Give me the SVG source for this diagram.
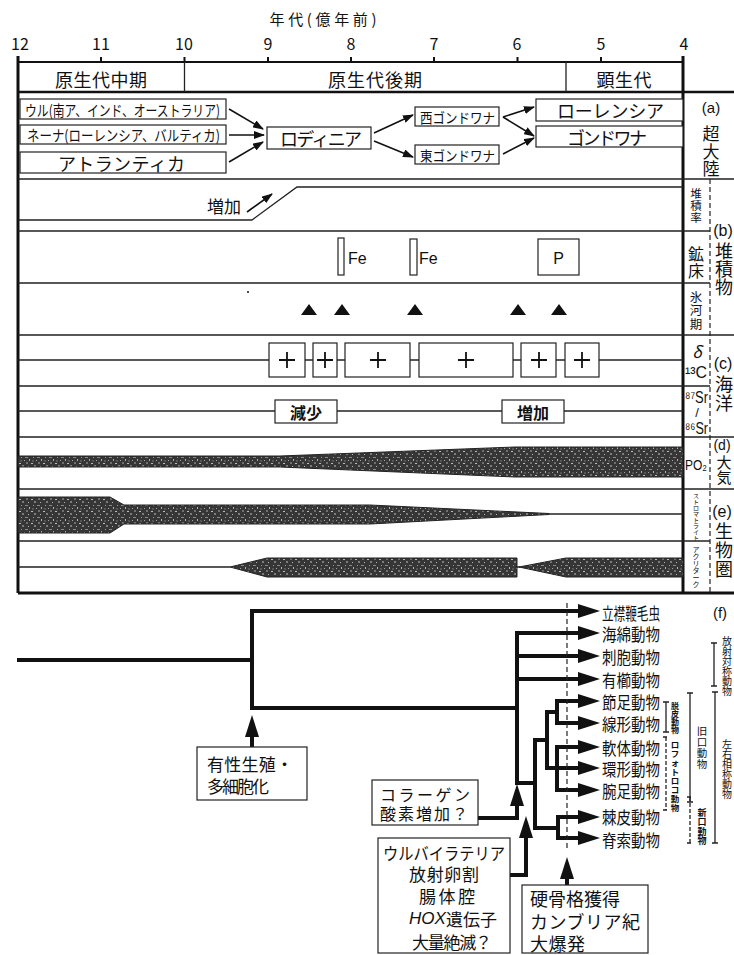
<svg xmlns="http://www.w3.org/2000/svg" width="734" height="955" viewBox="0 0 734 955">
<defs>
<style>
text{font-family:"Noto Sans CJK JP","Noto Sans CJK SC",sans-serif;fill:#111;dominant-baseline:central}
.n{font-family:"Liberation Sans",Arial,sans-serif}
.m{text-anchor:middle}
.b{font-weight:bold}
.ln{stroke:#222;stroke-width:1.3;fill:none}
.bd{stroke:#111;stroke-width:3;fill:none}
.bx{fill:#fff;stroke:#222;stroke-width:1.2}
.ar{stroke:#111;stroke-width:1.6;fill:none;marker-end:url(#ah)}
.tr{stroke:#111;stroke-width:4;fill:none}
.ta{stroke:#111;stroke-width:4;fill:none;marker-end:url(#bh)}
.band{fill:url(#tx);stroke:#222;stroke-width:1}
.dash{stroke:#222;stroke-width:1.2;fill:none;stroke-dasharray:5 3}
.ib{stroke:#222;stroke-width:1.3;fill:none}
</style>
<pattern id="tx" width="12" height="12" patternUnits="userSpaceOnUse">
<rect width="12" height="12" fill="#363636"/>
<rect x="1" y="1" width="3" height="1" fill="#8a8a8a"/>
<rect x="5" y="3" width="1" height="2" fill="#b0b0b0"/>
<rect x="2" y="6" width="2" height="2" fill="#6f6f6f"/>
<rect x="7" y="7" width="2" height="1" fill="#bcbcbc"/>
<rect x="9" y="1" width="1" height="1" fill="#9a9a9a"/>
<rect x="0" y="4" width="1" height="1" fill="#a5a5a5"/>
<rect x="10" y="9" width="2" height="2" fill="#7c7c7c"/>
<rect x="4" y="10" width="1" height="1" fill="#b5b5b5"/>
<rect x="8" y="4" width="2" height="2" fill="#555"/>
</pattern>
<marker id="ah" markerUnits="userSpaceOnUse" markerWidth="11" markerHeight="8" refX="10" refY="4" orient="auto"><path d="M0,0 L11,4 L0,8 z" fill="#111"/></marker>
<marker id="bh" markerUnits="userSpaceOnUse" markerWidth="22" markerHeight="14" refX="0" refY="7" orient="auto"><path d="M0,0 L22,7 L0,14 z" fill="#111"/></marker>
</defs>
<rect width="734" height="955" fill="#fff"/>

<!-- axis -->
<g id="axis">
<text class="m" x="323" y="18" font-size="15" textLength="107">年代(億年前)</text>
<g class="n m" font-size="16">
<text x="20" y="43">12</text><text x="101" y="43">11</text><text x="184" y="43">10</text><text x="268" y="43">9</text>
<text x="351" y="43">8</text><text x="434" y="43">7</text><text x="517" y="43">6</text><text x="601" y="43">5</text><text x="684" y="43">4</text>
</g>
<path d="M101,57V62M184.5,57V62M268,57V62M351,57V62M434,57V62M517.5,57V62M601,57V62" stroke="#111" stroke-width="2"/>
<path d="M18,62H684" stroke="#111" stroke-width="2"/>
</g>

<!-- frame and row lines -->
<g id="frame">
<path class="bd" d="M18,56V593M683,56V593"/>
<path d="M18,92H734" stroke="#111" stroke-width="2.5"/>
<path d="M18,593H734" stroke="#111" stroke-width="3"/>
<path class="ln" d="M184.5,62V92M566,62V92"/>
<path class="ln" d="M18,179H734M18,335H734M18,437H734M18,489H734"/>
<path class="ln" d="M18,231H710M18,283H710M18,386H710M18,541H710"/>
<path class="dash" d="M710,179V593"/>
</g>

<g id="periods" font-size="18">
<text class="m" x="101" y="79" textLength="92">原生代中期</text>
<text class="m" x="375" y="79" textLength="94">原生代後期</text>
<text class="m" x="624" y="79" textLength="55">顕生代</text>
</g>

<!-- (a) supercontinents -->
<g id="ur"><rect class="bx" x="20" y="99" width="206" height="20"/><text x="25" y="109" font-size="15" textLength="195" lengthAdjust="spacingAndGlyphs">ウル(南ア、インド、オーストラリア)</text></g>
<g id="nena"><rect class="bx" x="20" y="125" width="206" height="19"/><text x="27" y="134.5" font-size="15" textLength="193" lengthAdjust="spacingAndGlyphs">ネーナ(ローレンシア、バルティカ)</text></g>
<g id="atlantica"><rect class="bx" x="20" y="152" width="206" height="21"/><text x="58" y="163" font-size="18" textLength="127">アトランティカ</text></g>
<g id="rodinia"><rect class="bx" x="267" y="127" width="104" height="22"/><text x="280" y="138" font-size="18" textLength="82">ロディニア</text></g>
<g id="wgond"><rect class="bx" x="415" y="107" width="84" height="19"/><text x="420" y="116.5" font-size="14" textLength="75" lengthAdjust="spacingAndGlyphs">西ゴンドワナ</text></g>
<g id="egond"><rect class="bx" x="415" y="145" width="84" height="19"/><text x="420" y="154.5" font-size="14" textLength="75" lengthAdjust="spacingAndGlyphs">東ゴンドワナ</text></g>
<g id="laurentia"><rect class="bx" x="536" y="99" width="147" height="22"/><text x="557" y="110" font-size="18" textLength="107">ローレンシア</text></g>
<g id="gondwana"><rect class="bx" x="536" y="126" width="147" height="21"/><text x="567" y="136.5" font-size="18" textLength="80">ゴンドワナ</text></g>

<g id="connectors-a">
<path class="ar" d="M229,109L263,129"/>
<path class="ar" d="M229,135L264,135"/>
<path class="ar" d="M229,162L263,142"/>
<path class="ar" d="M374,133L413,115"/>
<path class="ar" d="M374,141L413,157"/>
<path class="ar" d="M503,117L534,107"/>
<path class="ar" d="M503,117L534,136"/>
<path class="ar" d="M503,154L534,138"/>
</g>

<g id="label-a">
<text class="m"><tspan class="n" x="711" y="107" font-size="15">(a)</tspan><tspan x="711 711 711" y="132 150 167" font-size="17">超大陸</tspan></text>
</g>

<!-- (b) sediments -->
<g id="sedrate">
<path class="ln" d="M18,220H252L297,187H683"/>
<text class="m" x="224" y="205" font-size="17">増加</text>
<path class="ar" d="M247,212L272,194"/>
</g>
<g id="ore">
<rect class="bx" x="338" y="238" width="6" height="37"/>
<text class="n" x="348" y="258" font-size="16">Fe</text>
<rect class="bx" x="410" y="239" width="7" height="36"/>
<text class="n" x="419" y="258" font-size="16">Fe</text>
<rect class="bx" x="538" y="239" width="41" height="36"/>
<text class="n m" x="558.5" y="258" font-size="16">P</text>
</g>
<g id="glacial" fill="#111">
<circle cx="248" cy="292" r="1"/>
<path d="M301,315L309,304L317,315zM334,315L342,304L350,315zM407,315L415,304L423,315zM510,315L518,304L526,315zM551,315L559,304L567,315z"/>
</g>
<g id="label-b">
<text class="m" x="696 696 696" y="193 205 217" font-size="11.5">堆積率</text>
<text class="m" x="696 696" y="253 270" font-size="16">鉱床</text>
<text class="m" x="696 696 696" y="296 309 323" font-size="12.5">氷河期</text>
<text class="m"><tspan class="n" x="723" y="230" font-size="16">(b)</tspan><tspan x="724 724 724" y="250 268 286" font-size="18">堆積物</tspan></text>
</g>

<!-- (c) ocean -->
<g id="d13c">
<path class="ln" d="M18,360H683"/>
<rect class="bx" x="269" y="343" width="36" height="34"/>
<rect class="bx" x="313" y="343" width="24" height="34"/>
<rect class="bx" x="345" y="343" width="65" height="34"/>
<rect class="bx" x="419" y="343" width="94" height="34"/>
<rect class="bx" x="521" y="343" width="35" height="34"/>
<rect class="bx" x="565" y="343" width="34" height="34"/>
<path stroke="#111" stroke-width="1.8" d="M279,360h16M287,352v16M317,360h16M325,352v16M370,360h16M378,352v16M458,360h16M466,352v16M531,360h16M539,352v16M574,360h16M582,352v16"/>
</g>
<g id="sr">
<path class="ln" d="M18,411H683"/>
<rect class="bx" x="275" y="400" width="62" height="23"/>
<text class="m b" x="306" y="411.5" font-size="16">減少</text>
<rect class="bx" x="502" y="400" width="62" height="23"/>
<text class="m b" x="533" y="411.5" font-size="16">増加</text>
</g>
<g id="label-c">
<text x="697" y="351" class="m" font-size="16" font-style="italic" font-family="Liberation Serif, serif">δ</text>
<text class="n" x="685" y="372" font-size="16" textLength="22" lengthAdjust="spacingAndGlyphs">¹³C</text>
<text class="n" x="685" y="397" font-size="16" textLength="23" lengthAdjust="spacingAndGlyphs">⁸⁷Sr</text>
<text class="n m" x="697" y="412.5" font-size="13">/</text>
<text class="n" x="685" y="428" font-size="16" textLength="23" lengthAdjust="spacingAndGlyphs">⁸⁶Sr</text>
<text class="m"><tspan class="n" x="723" y="363" font-size="16">(c)</tspan><tspan x="724 724" y="383 402" font-size="18">海洋</tspan></text>
</g>

<!-- (d) atmosphere -->
<g id="po2">
<polygon class="band" points="18,456 280,456 515,447 683,447 683,477 515,477 280,467 18,467"/>
</g>
<g id="label-d">
<text class="n" x="685" y="464" font-size="15" textLength="22" lengthAdjust="spacingAndGlyphs">PO₂</text>
<text class="m"><tspan class="n" x="722" y="445" font-size="14">(d)</tspan><tspan x="724 724" y="461 476" font-size="15">大気</tspan></text>
</g>

<!-- (e) biosphere -->
<g id="stromatolite">
<path class="ln" d="M549,514H683"/>
<polygon class="band" points="18,497 110,497 124,505 370,505 549,513.5 549,514.5 370,524 124,524 110,533 18,533"/>
</g>
<g id="acritarch">
<path class="ln" d="M18,567H230M517,567H520"/>
<polygon class="band" points="230,567 267,558 517,558 517,577 267,577"/>
<polygon class="band" points="519,567 566,558 683,558 683,577 566,577"/>
</g>
<g id="label-e">
<text class="m" x="696 696 696 696 696 696 696 696" y="495 501 507 513 519 525 531 537" font-size="6">ストロマトライト</text>
<text class="m" x="696 696 696 696 696 696" y="549 556 563 570 577 584" font-size="7">アクリターク</text>
<text class="m"><tspan class="n" x="722" y="511" font-size="16">(e)</tspan><tspan x="724 724 724" y="530 549 568" font-size="18">生物圏</tspan></text>
</g>

<!-- (f) phylogeny -->
<g id="tree-connectors">
<path class="tr" d="M17,660H252M252,609V710M250,708H517M517,631V785M515,783H535M535,738V830M533,740H547M547,710V770M545,712H557M557,699V725M545,768H557M557,745V792M533,828H558M558,815V840"/>
<path class="ta" d="M252,611H578"/>
<path class="ta" d="M517,633H578"/>
<path class="ta" d="M517,656H578"/>
<path class="ta" d="M517,679H578"/>
<path class="ta" d="M557,701H578"/>
<path class="ta" d="M557,723H578"/>
<path class="ta" d="M557,747H578"/>
<path class="ta" d="M557,768H578"/>
<path class="ta" d="M557,790H578"/>
<path class="ta" d="M558,817H578"/>
<path class="ta" d="M558,838H578"/>
<path class="dash" stroke-width="1.5" stroke-dasharray="8 5" d="M567,603V848"/>
<path class="ta" d="M252,747V737"/>
<path class="ta" d="M478,818H517V806"/>
<path class="ta" d="M510,875H526V838"/>
<path class="ta" d="M567,885V879"/>
</g>

<g id="taxa" font-size="17">
<text x="602" y="612" textLength="58" lengthAdjust="spacingAndGlyphs">立襟鞭毛虫</text>
<text x="602" y="633" textLength="58" lengthAdjust="spacingAndGlyphs">海綿動物</text>
<text x="602" y="656" textLength="58" lengthAdjust="spacingAndGlyphs">刺胞動物</text>
<text x="602" y="679" textLength="58" lengthAdjust="spacingAndGlyphs">有櫛動物</text>
<text x="602" y="701" textLength="58" lengthAdjust="spacingAndGlyphs">節足動物</text>
<text x="602" y="723" textLength="58" lengthAdjust="spacingAndGlyphs">線形動物</text>
<text x="602" y="747" textLength="58" lengthAdjust="spacingAndGlyphs">軟体動物</text>
<text x="602" y="768" textLength="58" lengthAdjust="spacingAndGlyphs">環形動物</text>
<text x="602" y="790" textLength="58" lengthAdjust="spacingAndGlyphs">腕足動物</text>
<text x="602" y="816" textLength="58" lengthAdjust="spacingAndGlyphs">棘皮動物</text>
<text x="602" y="839" textLength="58" lengthAdjust="spacingAndGlyphs">脊索動物</text>
</g>

<g id="groups">
<text class="n m" x="720" y="612" font-size="15">(f)</text>
<path class="ib" d="M714,643V686M711,643H717M711,686H717"/>
<text class="m" x="727 727 727 727 727 727" y="640 650 660 670 680 690" font-size="10">放射対称動物</text>
<path class="ib" d="M666,702V732M663,702H669M663,732H669"/>
<text class="m b" x="675 675 675 675" y="705 713 721 729" font-size="8">脱皮動物</text>
<path class="ib" stroke-dasharray="4 2" d="M666,737V810M663,737H669M663,810H669"/>
<text class="m b" x="675 675 675 675 675 675 675 675" y="744 753 762 771 780 789 798 807" font-size="8.5">ロフォトロコ動物</text>
<path class="ib" d="M690,693V802M687,693H693M687,802H693"/>
<text class="m" x="702 702 702 702" y="730 741 752 763" font-size="10.5">旧口動物</text>
<path class="ib" stroke-dasharray="4 2" d="M690,797V843M687,797H693M687,843H693"/>
<text class="m b" x="702 702 702 702" y="812 821.5 831 840.5" font-size="9">新口動物</text>
<path class="ib" d="M715,692V843M712,692H718M712,843H718"/>
<text class="m" x="727 727 727 727 727 727" y="743 753 763 773 783 793" font-size="10">左右相称動物</text>
</g>

<g id="event-sex">
<rect class="bx" x="197" y="747" width="110" height="53"/>
<text font-size="17"><tspan x="207" y="763" textLength="86">有性生殖・</tspan><tspan x="207" y="785" textLength="62">多細胞化</tspan></text>
</g>
<g id="event-collagen">
<rect class="bx" x="372" y="780" width="106" height="45"/>
<text font-size="16"><tspan x="380" y="794" textLength="90">コラーゲン</tspan><tspan x="380" y="813" textLength="88">酸素増加？</tspan></text>
</g>
<g id="event-urbilateria">
<rect class="bx" x="378" y="838" width="132" height="115"/>
<text class="m" font-size="17"><tspan x="444" y="852" textLength="122" lengthAdjust="spacingAndGlyphs">ウルバイラテリア</tspan><tspan x="444" y="873" textLength="70">放射卵割</tspan><tspan x="447" y="895" textLength="56">腸体腔</tspan><tspan x="453" y="918"><tspan font-style="italic" font-family="Liberation Sans, sans-serif">HOX</tspan>遺伝子</tspan><tspan x="452" y="941" textLength="80">大量絶滅？</tspan></text>
</g>
<g id="event-cambrian">
<rect class="bx" x="522" y="885" width="126" height="68"/>
<text font-size="18"><tspan x="530" y="898" textLength="90">硬骨格獲得</tspan><tspan x="530" y="921" textLength="110">カンブリア紀</tspan><tspan x="530" y="943" textLength="55">大爆発</tspan></text>
</g>
</svg>
